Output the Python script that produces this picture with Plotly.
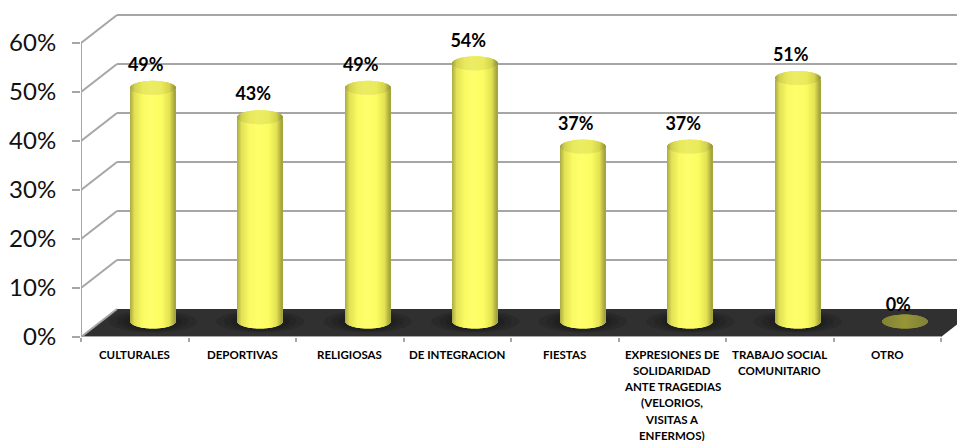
import plotly.graph_objects as go

# ---- data ----
categories = [
    ["CULTURALES"],
    ["DEPORTIVAS"],
    ["RELIGIOSAS"],
    ["DE INTEGRACION"],
    ["FIESTAS"],
    ["EXPRESIONES DE", "SOLIDARIDAD", "ANTE TRAGEDIAS", "(VELORIOS,", "VISITAS A", "ENFERMOS)"],
    ["TRABAJO SOCIAL", "COMUNITARIO"],
    ["OTRO"],
]
values = [49, 43, 49, 54, 37, 37, 51, 0]
y_ticks = [0, 10, 20, 30, 40, 50, 60]

# ---- geometry / style ----
W, H = 957, 433                # the page adds an 8 px body margin
L, B = 73, 104
PXX, PXY = 107.5, 4.9          # pixels per category, pixels per percent
DX, DY = 36 / PXX, 28 / PXY    # oblique depth of the chart box
HALF_W = 22.5 / PXX            # cylinder half width
ELL = 7 / PXY                  # cylinder ellipse half height
LIFT = 0.3                     # base of the cylinders above mid-floor
LOSS = 1.3                     # perspective drop of the drawn top
N = len(categories)
GRAY = "#a6a6a6"
FONT = "Lato, 'Open Sans', sans-serif"

stops = [(-1.0, (170, 170, 70)), (-0.8, (225, 225, 85)), (-0.45, (250, 250, 100)),
         (-0.1, (255, 255, 108)), (0.4, (252, 252, 98)), (0.75, (228, 228, 84)),
         (1.0, (160, 160, 62))]

def shade(t, k=1.0):
    for (a, ca), (b, cb) in zip(stops, stops[1:]):
        if t <= b:
            f = (t - a) / (b - a)
            c = [(p + (q - p) * f) * k for p, q in zip(ca, cb)]
            return "rgb(%d,%d,%d)" % tuple(c)
    return "rgb(%d,%d,%d)" % stops[-1][1]

# cylinders are made of one-pixel strips so that their ends follow the ellipse
n_strips = 45
body_x, body_base, body_y, body_c = [], [], [], []
cap_x, cap_base, cap_y, cap_c = [], [], [], []
shadow_x, shadow_base, shadow_y = [], [], []
for i, v in enumerate(values):
    h = max(v - LOSS, 0)
    for s in range(n_strips):
        t = -1 + 2 * (s + 0.5) / n_strips
        off = (1 - t * t) ** 0.5 * ELL
        xc = i + DX / 2 + t * HALF_W
        if v > 0:
            body_x.append(xc)
            body_base.append(DY / 2 + LIFT - off)
            body_y.append(h)
            body_c.append(shade(t))
        cap_x.append(xc)
        cap_base.append(DY / 2 + LIFT + h - off)
        cap_y.append(2 * off)
        if v > 0:
            cap_c.append(shade(t, 0.93))
        else:
            cap_c.append("rgb(%d,%d,%d)" % (150 - abs(t) * 20, 150 - abs(t) * 20, 55))
    if v > 0:
        # soft elliptical contact shadow on the floor around each cylinder
        for grow, lift in [(44, 11), (36, 10), (29, 9)]:
            for s in range(2 * grow):
                t = -1 + (s + 0.5) / grow
                shadow_x.append(i + DX / 2 + t * grow / PXX)
                off = (1 - t * t) ** 0.5 * lift / PXY
                shadow_base.append(DY / 2 + LIFT - off)
                shadow_y.append(2 * off)

strip_w = 1.4 / PXX
fig = go.Figure()
fig.add_bar(x=shadow_x, y=shadow_y, base=shadow_base, width=strip_w,
            marker=dict(color="rgba(0,0,0,0.07)", line=dict(width=0)), showlegend=False, hoverinfo="skip")
fig.add_bar(x=body_x, y=body_y, base=body_base, width=strip_w,
            marker=dict(color=body_c, line=dict(width=0)), showlegend=False, hoverinfo="skip")
fig.add_bar(x=cap_x, y=cap_y, base=cap_base, width=strip_w,
            marker=dict(color=cap_c, line=dict(width=0)), showlegend=False, hoverinfo="skip")

# axis frame drawn from the same scale
fx, fy = [-0.5, -0.5, None, -0.5, 7.5], [0, 60, None, 0, 0]
for v in y_ticks:
    fx += [None, -0.5, -0.5 + DX]
    fy += [None, v, v + DY]
fig.add_scatter(x=fx, y=fy, mode="lines", line=dict(color=GRAY, width=2),
                cliponaxis=False, showlegend=False, hoverinfo="skip")

# data labels
fig.add_scatter(x=[i + DX / 2 - 7 / PXX for i in range(N)],
                y=[DY / 2 + v + 1.5 for v in values],
                mode="text", text=["%d%%" % v for v in values], textposition="top center",
                textfont=dict(family=FONT, size=18, color="black", weight="bold"),
                cliponaxis=False, showlegend=False, hoverinfo="skip")

# floor and back wall lines sit below the bars
shapes = [dict(type="path", layer="below", xref="x", yref="y", line=dict(width=0), fillcolor="#303030",
               path=f"M -0.5 0 L 7.5 0 L {7.5 + DX} {DY} L {-0.5 + DX} {DY} Z")]
for v in y_ticks[1:]:
    shapes.append(dict(type="line", layer="below", xref="x", yref="y",
                       x0=-0.5 + DX, x1=7.5 + DX, y0=v + DY, y1=v + DY,
                       line=dict(color=GRAY, width=2)))

# category labels, one annotation per printed line
annotations = []
for i, lines in enumerate(categories):
    for j, line in enumerate(lines):
        annotations.append(dict(x=i, y=0, xref="x", yref="y", text=line, showarrow=False,
                                yshift=-(17 + 16.3 * j), xanchor="center", yanchor="middle",
                                font=dict(family=FONT, size=11.5, color="black", weight="bold")))

fig.update_layout(
    width=W, height=H, margin=dict(l=L, r=0, t=0, b=B, pad=0),
    paper_bgcolor="white", plot_bgcolor="white", barmode="overlay",
    shapes=shapes, annotations=annotations, showlegend=False,
    xaxis=dict(automargin=False, range=[-0.5, -0.5 + (W - L) / PXX], showgrid=False, zeroline=False, showline=False,
               tickmode="array", tickvals=[k - 0.5 for k in range(N + 1)], ticktext=[""] * (N + 1),
               ticks="outside", ticklen=4, tickwidth=2, tickcolor=GRAY),
    yaxis=dict(automargin=False, range=[0, (H - B) / PXY], showgrid=False, zeroline=False, showline=False,
               tickmode="array", tickvals=y_ticks, ticktext=["%d%%" % t for t in y_ticks],
               ticks="outside", ticklen=8, tickwidth=2, tickcolor=GRAY, ticklabelstandoff=11,
               tickfont=dict(family=FONT, size=24, color="#111111")),
)
fig.write_html("out.html")
